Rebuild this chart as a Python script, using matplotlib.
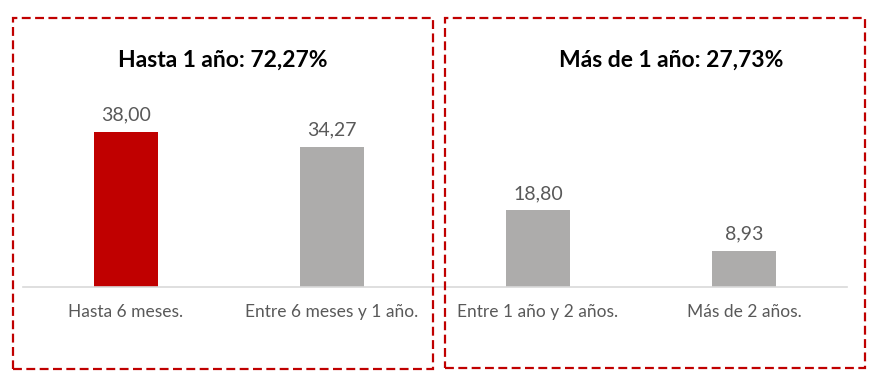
import matplotlib.pyplot as plt
from matplotlib.patches import Rectangle

categories = ["Hasta 6 meses.", "Entre 6 meses y 1 año.", "Entre 1 año y 2 años.", "Más de 2 años."]
values = [38.00, 34.27, 18.80, 8.93]
bar_colors = ["#c00000", "#adacab", "#adacab", "#adacab"]
group_titles = ["Hasta 1 año: 72,27%", "Más de 1 año: 27,73%"]

plt.rcParams["font.family"] = ["Lato", "DejaVu Sans"]

W, H = 882, 379
fig = plt.figure(figsize=(W / 100, H / 100), dpi=100)

# axes placed in pixel terms: baseline at y=287, x from 23 to 847
ymax = 50
px_per_unit = 4.08
ax_h = ymax * px_per_unit
ax = fig.add_axes([23 / W, 1 - 287 / H, (847 - 23) / W, ax_h / H])

x = range(len(categories))
bars = ax.bar(x, values, width=0.315, color=bar_colors)
ax.set_xlim(-0.5, 3.5)
ax.set_ylim(0, ymax)

for b, v in zip(bars, values):
    ax.annotate("{:.2f}".format(v).replace(".", ","),
                (b.get_x() + b.get_width() / 2, v),
                xytext=(0, 6), textcoords="offset points",
                ha="center", va="bottom", fontsize=14, color="#595959")

ax.set_xticks(list(x))
ax.set_xticklabels(categories, fontsize=12.5, color="#595959")
ax.tick_params(axis="x", length=0, pad=12)
ax.set_yticks([])
for s in ["top", "left", "right"]:
    ax.spines[s].set_visible(False)
ax.spines["bottom"].set_color("#d9d9d9")
ax.spines["bottom"].set_linewidth(1.2)

# dashed group boxes (pixel coords)
boxes = [(13, 18, 433, 369), (445, 18, 865, 368)]
for x0, y0, x1, y1 in boxes:
    r = Rectangle((x0 / W, 1 - y1 / H), (x1 - x0) / W, (y1 - y0) / H,
                  transform=fig.transFigure, fill=False, edgecolor="#c00000",
                  linewidth=1.6, linestyle=(0, (4, 2)))
    fig.patches.append(r)

fig.text(223 / W, 1 - 60 / H, group_titles[0], ha="center", va="center",
         fontsize=16.5, fontweight="bold", color="black")
fig.text(671 / W, 1 - 60 / H, group_titles[1], ha="center", va="center",
         fontsize=16.5, fontweight="bold", color="black")

fig.savefig("out.png", dpi=100)
